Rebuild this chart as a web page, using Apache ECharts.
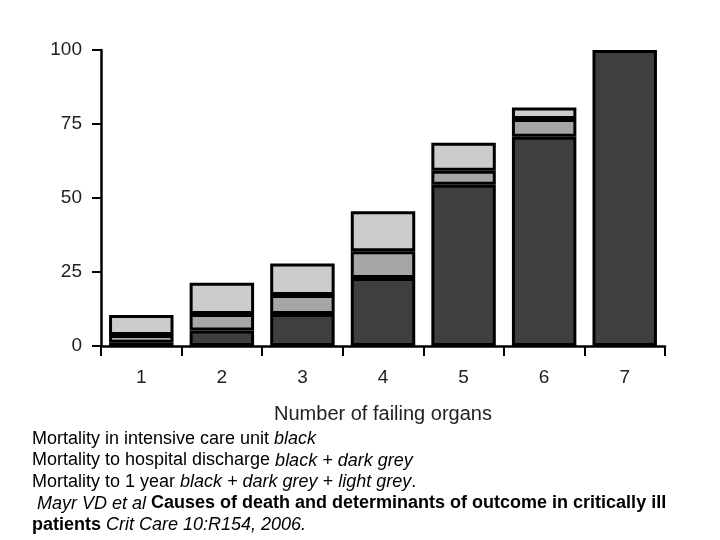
<!DOCTYPE html>
<html>
<head>
<meta charset="utf-8">
<title>Mortality by number of failing organs</title>
<script src="https://cdn.jsdelivr.net/npm/echarts@6/dist/echarts.min.js"></script>
<style>
    html, body { margin: 0; padding: 0; background: #fff; }
    #chart { width: 720px; height: 540px; }
</style>
</head>
<body>
<div id="chart"></div>
<script>
    // number of failing organs
    var organs = ['1', '2', '3', '4', '5', '6', '7'];
    // mortality in ICU (black)
    var icu = [1.1, 5.2, 10.8, 23, 54.5, 70.7, 100];
    // added up to hospital discharge (dark grey)
    var hospital = [2.6, 5.6, 6.4, 9, 4.7, 6, 0];
    // added up to 1 year (light grey)
    var oneYear = [6.8, 10.6, 10.7, 13.5, 9.5, 3.9, 0];
    var yTicks = [0, 25, 50, 75, 100];

    var font = '"Liberation Sans", Arial, sans-serif';
    var chart = echarts.init(document.getElementById('chart'), null, { renderer: 'canvas' });

    function seg(name, data, color) {
        return {
            name: name,
            type: 'bar',
            stack: 'mort',
            data: data.map(function (v) { return v === 0 ? null : v; }),
            barCategoryGap: '20%',
            itemStyle: { color: color, borderColor: '#000', borderWidth: 3 },
            emphasis: { disabled: true },
            animation: false
        };
    }

    var option = {
        backgroundColor: '#fff',
        grid: { left: 101, right: 55, top: 50, bottom: 194 },
        xAxis: {
            type: 'category',
            data: organs,
            name: 'Number of failing organs',
            nameLocation: 'middle',
            nameGap: 58,
            nameTextStyle: { fontFamily: font, fontSize: 20, color: '#222' },
            axisLine: { lineStyle: { color: '#000', width: 2.5 } },
            axisTick: { show: true, length: 10, lineStyle: { color: '#000', width: 2 } },
            axisLabel: { fontFamily: font, fontSize: 19, color: '#222', margin: 22 }
        },
        yAxis: {
            type: 'value',
            min: yTicks[0],
            max: yTicks[yTicks.length - 1],
            interval: 25,
            splitLine: { show: false },
            axisLine: { show: true, lineStyle: { color: '#000', width: 2.5 } },
            axisTick: { show: true, length: 9, lineStyle: { color: '#000', width: 2 } },
            axisLabel: { fontFamily: font, fontSize: 19, color: '#222', margin: 19 }
        },
        series: [
            seg('ICU', icu, '#3f3f3f'),
            seg('Hospital discharge', hospital, '#a6a6a6'),
            seg('1 year', oneYear, '#cccccc')
        ],
        graphic: [{
            type: 'text',
            left: 32,
            top: 430,
            style: {
                text: [
                    '{n|Mortality in intensive care unit }{i|black}',
                    '{n|Mortality to hospital discharge }{i|black + dark grey}',
                    '{n|Mortality to 1 year }{i|black + dark grey + light grey}{n|.}',
                    '{n| }{i|Mayr VD et al }{b|Causes of death and determinants of outcome in critically ill}',
                    '{b|patients }{i|Crit Care 10:R154, 2006.}'
                ].join('\n'),
                rich: {
                    n: { fontFamily: font, fontSize: 18, lineHeight: 21.5, fill: '#000' },
                    i: { fontFamily: font, fontSize: 18, lineHeight: 21.5, fontStyle: 'italic', fill: '#000' },
                    b: { fontFamily: font, fontSize: 18, lineHeight: 21.5, fontWeight: 'bold', fill: '#000' }
                }
            }
        }]
    };
    chart.setOption(option);
</script>
</body>
</html>
